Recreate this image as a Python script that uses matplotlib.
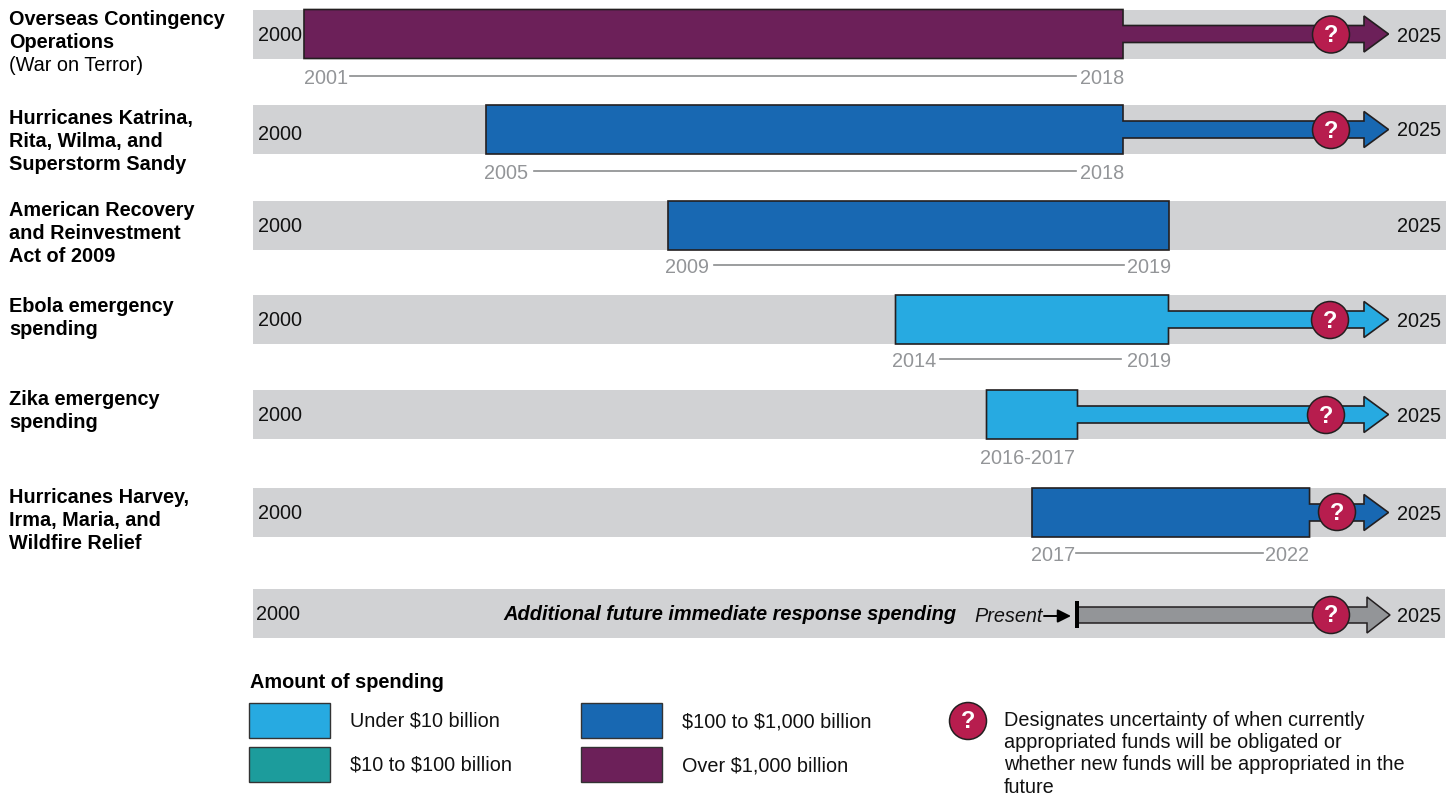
import matplotlib
matplotlib.use("Agg")
import matplotlib.pyplot as plt
from matplotlib.patches import Ellipse, Polygon, Rectangle

plt.rcParams['font.family'] = ['Liberation Sans', 'DejaVu Sans']

# --- data ---
row_labels = [
    [("Overseas Contingency", True), ("Operations", True), ("(War on Terror)", False)],
    [("Hurricanes Katrina,", True), ("Rita, Wilma, and", True), ("Superstorm Sandy", True)],
    [("American Recovery", True), ("and Reinvestment", True), ("Act of 2009", True)],
    [("Ebola emergency", True), ("spending", True)],
    [("Zika emergency", True), ("spending", True)],
    [("Hurricanes Harvey,", True), ("Irma, Maria, and", True), ("Wildfire Relief", True)],
]
start_years = [2001, 2005, 2009, 2014, 2016, 2017]
end_years = [2019, 2019, 2020, 2020, 2018, 2023.1]
PURPLE, BLUE, LIGHT, TEAL = "#6C2059", "#1868B2", "#27AAE1", "#1C9C9C"
bar_colors = [PURPLE, BLUE, BLUE, LIGHT, LIGHT, BLUE]
has_arrow = [True, True, False, True, True, True]
legend_labels = ["Under $10 billion", "$10 to $100 billion", "$100 to $1,000 billion", "Over $1,000 billion"]
legend_colors = [LIGHT, TEAL, BLUE, PURPLE]
note_lines = ["Designates uncertainty of when currently", "appropriated funds will be obligated or",
              "whether new funds will be appropriated in the", "future"]
year_labels = [("2001", "2018"), ("2005", "2018"), ("2009", "2019"), ("2014", "2019"), ("2016-2017", None), ("2017", "2022")]

# --- layout (pixels) ---
W, H = 1455, 797
PX_PER_YEAR = 45.5
X_2000 = 258.5
def yr(px):
    return 2000 + (px - X_2000) / PX_PER_YEAR

fig = plt.figure(figsize=(W / 100, H / 100), dpi=100, facecolor="white")
ax = fig.add_axes([0, 0, 1, 1])
ax.set_xlim(yr(0), yr(W))
ax.set_ylim(H, 0)
ax.axis("off")

GREY = "#D1D2D4"
EDGE = "#231F20"
TXT_GREY = "#939598"
CRIMSON = "#B71D4E"
FS = 14.3

row_tops = [9.5, 105, 201, 295, 390, 488]
row_h = 49
label_tops = [18, 117, 209, 305, 398, 496]
y2000 = [34, 133, 225, 319, 414, 512]
y2025 = [35, 129, 225, 320, 415, 513]
circle_px = [(1331, 34.5), (1331, 130), None, (1330, 320), (1326, 415), (1337, 512)]
year_y = [77, 172, 266, 360, 457, 554]
year_x = [(304, 1080), (484, 1080), (665, 1127), (892, 1127), (980, None), (1031, 1265)]
connectors = [(350, 1076), (534, 1076), (714, 1124), (940, 1121), None, (1076, 1263)]

def T(px, py, s, **kw):
    kw.setdefault("fontsize", FS)
    kw.setdefault("color", "#111111")
    ax.text(yr(px), py + 7, s, va="baseline", parse_math=False, **kw)

def circle(px, py, r=18.5):
    ax.add_patch(Ellipse((yr(px), py), 2 * r / PX_PER_YEAR, 2 * r, fc=CRIMSON, ec=EDGE, lw=1.1, zorder=6))
    ax.text(yr(px), py + 7.5, "?", color="white", fontsize=FS + 2.5, fontweight="bold",
            ha="center", va="baseline", zorder=7)

def arrow_poly(x0, x1, x_head, x_tip, cy, half_shaft=8.5, half_head=18, top=None, bottom=None):
    pts = []
    if top is not None:
        pts += [(x0, bottom), (x0, top), (x1, top)]
    else:
        pts += [(x0, cy + half_shaft), (x0, cy - half_shaft)]
    pts += [(x1, cy - half_shaft), (x_head, cy - half_shaft), (x_head, cy - half_head),
            (x_tip, cy), (x_head, cy + half_head), (x_head, cy + half_shaft), (x1, cy + half_shaft)]
    if top is not None:
        pts += [(x1, bottom)]
    return pts

for i, top in enumerate(row_tops):
    ax.add_patch(Rectangle((yr(253), top), 1193 / PX_PER_YEAR, row_h, fc=GREY, ec="none", zorder=1))
    for j, (s, bold) in enumerate(row_labels[i]):
        T(9, label_tops[i] + j * 23, s, fontweight="bold" if bold else "normal", color="#000000")
    T(257.5, y2000[i], "2000")
    T(1397, y2025[i], "2025")
    cy = top + row_h / 2
    x0, x1 = start_years[i], end_years[i]
    if has_arrow[i]:
        pts = arrow_poly(x0, x1, yr(1364), yr(1388.5), cy, top=top, bottom=top + row_h)
    else:
        pts = [(x0, top), (x1, top), (x1, top + row_h), (x0, top + row_h)]
    ax.add_patch(Polygon(pts, closed=True, fc=bar_colors[i], ec=EDGE, lw=1.2, joinstyle="miter", zorder=3))
    if circle_px[i]:
        circle(*circle_px[i])
    a, b = year_labels[i]
    T(year_x[i][0], year_y[i], a, color=TXT_GREY)
    if b:
        T(year_x[i][1], year_y[i], b, color=TXT_GREY)
    if connectors[i]:
        c0, c1 = connectors[i]
        ax.plot([yr(c0), yr(c1)], [year_y[i] - 1] * 2, color="#8A8C8E", lw=1.2, zorder=2)

# additional future spending row
ax.add_patch(Rectangle((yr(253), 589), 1192 / PX_PER_YEAR, row_h, fc=GREY, ec="none", zorder=1))
T(256, 613, "2000")
T(1397, 615, "2025")
T(503, 612.5, "Additional future immediate response spending", fontweight="bold", fontstyle="italic",
  color="#000000", fontsize=FS + 0.1)
T(974, 615.5, "Present", fontstyle="italic")
ax.annotate("", xy=(yr(1071), 616), xytext=(yr(1044), 616),
            arrowprops=dict(arrowstyle="-|>", color="black", lw=1.4, mutation_scale=20, shrinkA=0, shrinkB=0), zorder=4)
ax.add_patch(Polygon(arrow_poly(yr(1077), yr(1367), yr(1367), yr(1390), 615, half_shaft=8, half_head=18),
                     closed=True, fc=TXT_GREY, ec=EDGE, lw=1.1, joinstyle="miter", zorder=3))
ax.add_patch(Rectangle((yr(1074.5), 601), 4.5 / PX_PER_YEAR, 27, fc="black", ec="none", zorder=5))
circle(1331, 615)

# legend
T(250, 681, "Amount of spending", fontweight="bold", color="#000000")
lx = [249, 249, 581, 581]
ly = [703, 747, 703, 747]
tx = [350, 350, 682, 682]
for c, s, x, y, t in zip(legend_colors, legend_labels, lx, ly, tx):
    ax.add_patch(Rectangle((yr(x), y), 81 / PX_PER_YEAR, 34.5, fc=c, ec="#333333", lw=1.0, zorder=3))
    T(t, y + 17, s)
circle(968, 721, r=18.5)
for j, s in enumerate(note_lines):
    T(1004, 718.5 + j * 22.4, s)

fig.savefig("out.png", dpi=100, facecolor="white")
